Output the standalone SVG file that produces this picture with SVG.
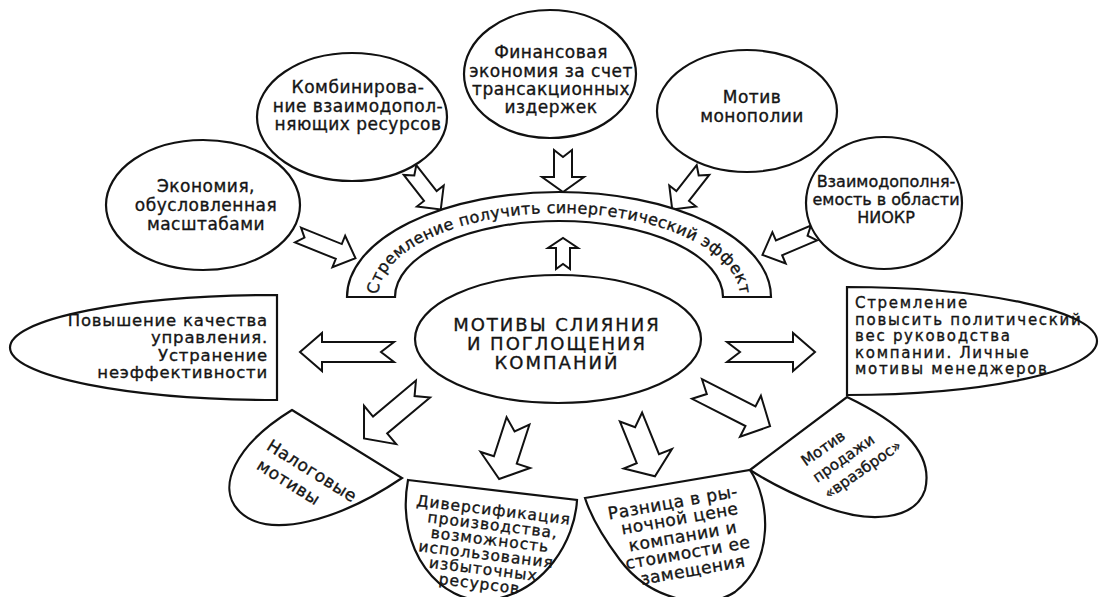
<svg xmlns="http://www.w3.org/2000/svg" width="1101" height="597" viewBox="0 0 1101 597">
<style>
.s{fill:#fff;stroke:#111;stroke-width:2.2;stroke-linejoin:miter}
.a{fill:#fff;stroke:#111;stroke-width:2;stroke-linejoin:miter}
text{font-family:"DejaVu Sans","Liberation Sans",sans-serif;fill:#151515;stroke:#151515;stroke-width:0.35;font-size:16px}
.c{text-anchor:middle}
.r{text-anchor:end}
.t{font-size:17px;letter-spacing:0.5px}
.l{font-size:16.5px;letter-spacing:0.8px}
.m{font-size:18px;letter-spacing:2px}
.p{font-size:15px;letter-spacing:1.7px}
.d{font-size:15.5px;letter-spacing:1px}
.v{font-size:15px}
</style>
<rect width="1101" height="597" fill="#fff"/>

<g id="connectors">
  <polygon class="a" transform="translate(298,235) rotate(22)" points="0,-8 44,-8 44,-17 62,0 44,17 44,8 0,8 7,0"/>
  <polygon class="a" transform="translate(410,170) rotate(52)" points="0,-8 33,-8 33,-17 50,0 33,17 33,8 0,8 7,0"/>
  <polygon class="a" transform="translate(563,150) rotate(90)" points="0,-9 27,-9 27,-21 42,0 27,21 27,9 0,9 7,0"/>
  <polygon class="a" transform="translate(703,170) rotate(128)" points="0,-8 33,-8 33,-17 50,0 33,17 33,8 0,8 7,0"/>
  <polygon class="a" transform="translate(814,233) rotate(157)" points="0,-8 38,-8 38,-17 56,0 38,17 38,8 0,8 7,0"/>
  <polygon class="a" transform="translate(563,269) rotate(-90)" points="0,-7 21,-7 21,-15 31,0 21,15 21,7 0,7 5,0"/>
  <polygon class="a" transform="translate(394,352) rotate(180)" points="0,-10 72,-10 72,-19 94,0 72,19 72,10 0,10 13,0"/>
  <polygon class="a" transform="translate(727,352)" points="0,-10 66,-10 66,-19 88,0 66,19 66,10 0,10 13,0"/>
  <polygon class="a" transform="translate(423,389) rotate(140)" points="0,-11 56,-11 56,-25 77,0 56,25 56,11 0,11 11,0"/>
  <polygon class="a" transform="translate(518,421) rotate(108)" points="0,-12 41,-12 41,-26 61,0 41,26 41,12 0,12 11,0"/>
  <polygon class="a" transform="translate(631,417) rotate(68)" points="0,-12 45,-12 45,-26 64,0 45,26 45,12 0,12 11,0"/>
  <polygon class="a" transform="translate(697,389) rotate(27)" points="0,-11 60,-11 60,-23 82,0 60,23 60,11 0,11 11,0"/>
</g>

<g id="n-economy">
  <ellipse class="s" cx="203" cy="205" rx="97" ry="65"/>
  <text class="c t" x="206" y="192">Экономия,</text>
  <text class="c t" x="206" y="211">обусловленная</text>
  <text class="c t" x="206" y="230">масштабами</text>
</g>

<g id="n-combine">
  <ellipse class="s" cx="352" cy="117" rx="95" ry="64"/>
  <text class="c t" x="358" y="93">Комбинирова-</text>
  <text class="c t" x="358" y="112">ние взаимодопол-</text>
  <text class="c t" x="358" y="130">няющих ресурсов</text>
</g>

<g id="n-finance">
  <ellipse class="s" cx="550" cy="74" rx="86" ry="64"/>
  <text class="c t" x="551" y="58">Финансовая</text>
  <text class="c t" x="551" y="77">экономия за счет</text>
  <text class="c t" x="551" y="95">трансакционных</text>
  <text class="c t" x="551" y="113">издержек</text>
</g>

<g id="n-monopoly">
  <ellipse class="s" cx="747" cy="111" rx="90" ry="61"/>
  <text class="c t" x="752" y="103">Мотив</text>
  <text class="c t" x="752" y="122">монополии</text>
</g>

<g id="n-rnd">
  <ellipse class="s" cx="884" cy="203" rx="78" ry="66"/>
  <text class="c" x="886" y="187">Взаимодополня-</text>
  <text class="c" x="886" y="205">емость в области</text>
  <text class="c" x="886" y="223">НИОКР</text>
</g>

<g id="n-synergy">
  <path class="s" d="M347 297 A212 105 0 0 1 771 297 L723 297 A164 76 0 0 0 395 297 Z"/>
  <path id="arcText" d="M378 297 A181 84 0 0 1 740 297" fill="none" stroke="none"/>
  <text font-size="16" letter-spacing="0.4"><textPath href="#arcText" startOffset="50%" text-anchor="middle">Стремление получить синергетический эффект</textPath></text>
</g>

<g id="n-center">
  <ellipse class="s" cx="558" cy="339" rx="143" ry="64"/>
  <text class="c m" x="557" y="331">МОТИВЫ СЛИЯНИЯ</text>
  <text class="c m" x="557" y="350">И ПОГЛОЩЕНИЯ</text>
  <text class="c m" x="557" y="369">КОМПАНИЙ</text>
</g>

<g id="n-management">
  <path class="s" d="M277 295 A267 52.5 0 0 0 277 400 Z"/>
  <text class="r l" x="268" y="326">Повышение качества</text>
  <text class="r l" x="268" y="343">управления.</text>
  <text class="r l" x="268" y="361">Устранение</text>
  <text class="r l" x="268" y="378">неэффективности</text>
</g>

<g id="n-political">
  <path class="s" d="M847 287 A250 54 0 0 1 847 395 Z"/>
  <text class="p" x="855" y="308">Стремление</text>
  <text class="p" x="855" y="324.5">повысить политический</text>
  <text class="p" x="855" y="341">вес руководства</text>
  <text class="p" x="855" y="357.5">компании. Личные</text>
  <text class="p" x="855" y="374">мотивы менеджеров</text>
</g>

<g id="n-tax">
  <path class="s" d="M292 410 L402 478 C340 520 270 540 240 512 C215 488 235 445 292 410 Z"/>
  <g transform="translate(298,476) rotate(32)">
    <text class="t" x="-42" y="-6">Налоговые</text>
    <text class="t" x="-40" y="16">мотивы</text>
  </g>
</g>

<g id="n-diversification">
  <path class="s" d="M408 480 L577 500 C575 540 545 592 490 600 C440 605 395 550 408 480 Z"/>
  <g transform="translate(490,540) rotate(7)">
    <text class="c d" x="0" y="-25">Диверсификация</text>
    <text class="c d" x="1" y="-10">производства,</text>
    <text class="c d" x="0" y="5">возможность</text>
    <text class="c d" x="-2" y="20">использования</text>
    <text class="c d" x="-3" y="35">избыточных</text>
    <text class="c d" x="-5" y="50">ресурсов</text>
  </g>
</g>

<g id="n-market">
  <path class="s" d="M585 498 L750 470 C770 500 775 560 735 592 C705 612 650 600 620 560 C605 540 592 520 585 498 Z"/>
  <g transform="translate(683,537) rotate(-10)">
    <text class="c t" x="-4" y="-30">Разница в ры-</text>
    <text class="c t" x="0" y="-13">ночной цене</text>
    <text class="c t" x="0" y="5">компании и</text>
    <text class="c t" x="2" y="22">стоимости ее</text>
    <text class="c t" x="4" y="40">замещения</text>
  </g>
</g>

<g id="n-scatter">
  <path class="s" d="M750 470 L847 397 C895 420 935 450 925 490 C915 520 870 525 820 505 C795 495 770 483 750 470 Z"/>
  <g transform="translate(850,460) rotate(-35)">
    <text class="v" x="-40" y="-20">Мотив</text>
    <text class="v" x="-40" y="0">продажи</text>
    <text class="v" x="-40" y="20">«вразброс»</text>
  </g>
</g>
</svg>
